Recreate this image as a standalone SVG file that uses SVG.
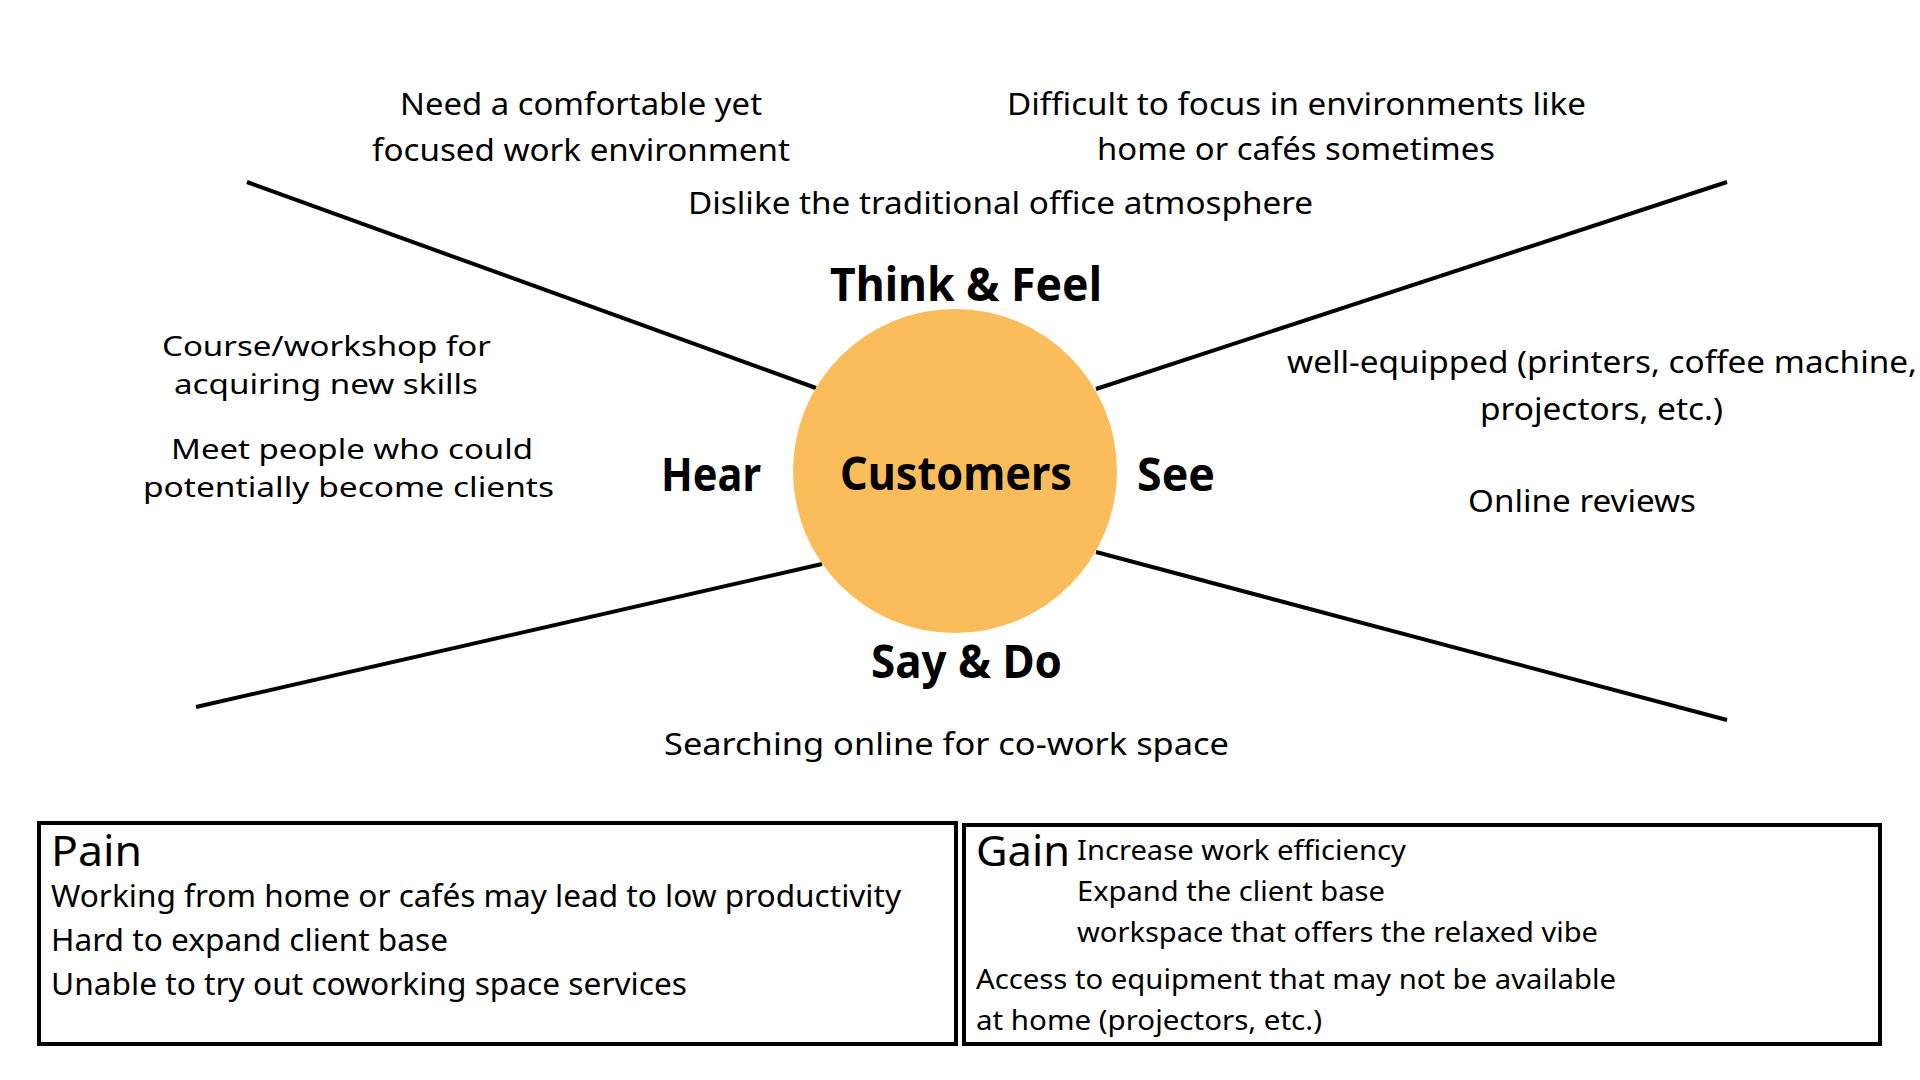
<svg xmlns="http://www.w3.org/2000/svg" width="1920" height="1080" viewBox="0 0 1920 1080">
  <style>
    .t { font-family: "Noto Sans", "Open Sans", "Liberation Sans", sans-serif; font-size: 31px; fill: #000; }
    .s { font-family: "Noto Sans", "Open Sans", "Liberation Sans", sans-serif; font-size: 28px; fill: #000; }
    .g { font-family: "Noto Sans", "Open Sans", "Liberation Sans", sans-serif; font-size: 28px; fill: #000; }
    .h { font-family: "Noto Sans", "Open Sans", "Liberation Sans", sans-serif; font-size: 46px; font-weight: 700; fill: #000; }
    .bt { font-family: "Noto Sans", "Open Sans", "Liberation Sans", sans-serif; font-size: 41px; fill: #000; }
    .conn { stroke: #000; stroke-width: 4; fill: none; }
    .box { stroke: #000; stroke-width: 4; fill: #fff; }
  </style>
  <rect x="0" y="0" width="1920" height="1080" fill="#fff"/>

  <g id="connectors">
    <line class="conn" x1="247" y1="182" x2="816" y2="388"/>
    <line class="conn" x1="1727" y1="182" x2="1096" y2="389"/>
    <line class="conn" x1="196" y1="707" x2="822" y2="564"/>
    <line class="conn" x1="1727" y1="720" x2="1096" y2="552"/>
  </g>

  <g id="customers">
    <circle cx="955" cy="471" r="162" fill="#FBBC5B"/>
    <text class="h" x="840" y="490" textLength="232" lengthAdjust="spacingAndGlyphs">Customers</text>
  </g>

  <g id="think-feel">
    <text class="h" x="830" y="301" textLength="272" lengthAdjust="spacingAndGlyphs">Think &amp; Feel</text>
    <text class="t" x="400" y="115" textLength="362" lengthAdjust="spacingAndGlyphs">Need a comfortable yet</text>
    <text class="t" x="372" y="161" textLength="418" lengthAdjust="spacingAndGlyphs">focused work environment</text>
    <text class="t" x="1007" y="115" textLength="579" lengthAdjust="spacingAndGlyphs">Difficult to focus in environments like</text>
    <text class="t" x="1097" y="160" textLength="398" lengthAdjust="spacingAndGlyphs">home or cafés sometimes</text>
    <text class="t" x="688" y="214" textLength="625" lengthAdjust="spacingAndGlyphs">Dislike the traditional office atmosphere</text>
  </g>

  <g id="hear">
    <text class="h" x="661" y="491" textLength="100" lengthAdjust="spacingAndGlyphs">Hear</text>
    <text class="s" x="162" y="356" textLength="329" lengthAdjust="spacingAndGlyphs">Course/workshop for</text>
    <text class="s" x="174" y="394" textLength="304" lengthAdjust="spacingAndGlyphs">acquiring new skills</text>
    <text class="s" x="171" y="459" textLength="362" lengthAdjust="spacingAndGlyphs">Meet people who could</text>
    <text class="s" x="143" y="497" textLength="411" lengthAdjust="spacingAndGlyphs">potentially become clients</text>
  </g>

  <g id="see">
    <text class="h" x="1137" y="491" textLength="78" lengthAdjust="spacingAndGlyphs">See</text>
    <text class="t" x="1287" y="373" textLength="630" lengthAdjust="spacingAndGlyphs">well-equipped (printers, coffee machine,</text>
    <text class="t" x="1480" y="420" textLength="243" lengthAdjust="spacingAndGlyphs">projectors, etc.)</text>
    <text class="t" x="1468" y="512" textLength="228" lengthAdjust="spacingAndGlyphs">Online reviews</text>
  </g>

  <g id="say-do">
    <text class="h" x="871" y="678" textLength="191" lengthAdjust="spacingAndGlyphs">Say &amp; Do</text>
    <text class="t" x="664" y="755" textLength="565" lengthAdjust="spacingAndGlyphs">Searching online for co-work space</text>
  </g>

  <g id="pain">
    <rect class="box" x="39" y="823" width="917" height="221"/>
    <text class="bt" x="51" y="866" textLength="91" lengthAdjust="spacingAndGlyphs">Pain</text>
    <text class="t" x="51" y="907" textLength="850" lengthAdjust="spacingAndGlyphs">Working from home or cafés may lead to low productivity</text>
    <text class="t" x="51" y="951" textLength="397" lengthAdjust="spacingAndGlyphs">Hard to expand client base</text>
    <text class="t" x="51" y="995" textLength="636" lengthAdjust="spacingAndGlyphs">Unable to try out coworking space services</text>
  </g>

  <g id="gain">
    <rect class="box" x="964" y="825" width="916" height="219"/>
    <text class="bt" x="976" y="866" textLength="94" lengthAdjust="spacingAndGlyphs">Gain</text>
    <text class="g" x="1077" y="860" textLength="329" lengthAdjust="spacingAndGlyphs">Increase work efficiency</text>
    <text class="g" x="1077" y="901" textLength="308" lengthAdjust="spacingAndGlyphs">Expand the client base</text>
    <text class="g" x="1077" y="942" textLength="521" lengthAdjust="spacingAndGlyphs">workspace that offers the relaxed vibe</text>
    <text class="g" x="976" y="989" textLength="640" lengthAdjust="spacingAndGlyphs">Access to equipment that may not be available</text>
    <text class="g" x="976" y="1030" textLength="346" lengthAdjust="spacingAndGlyphs">at home (projectors, etc.)</text>
  </g>
</svg>
